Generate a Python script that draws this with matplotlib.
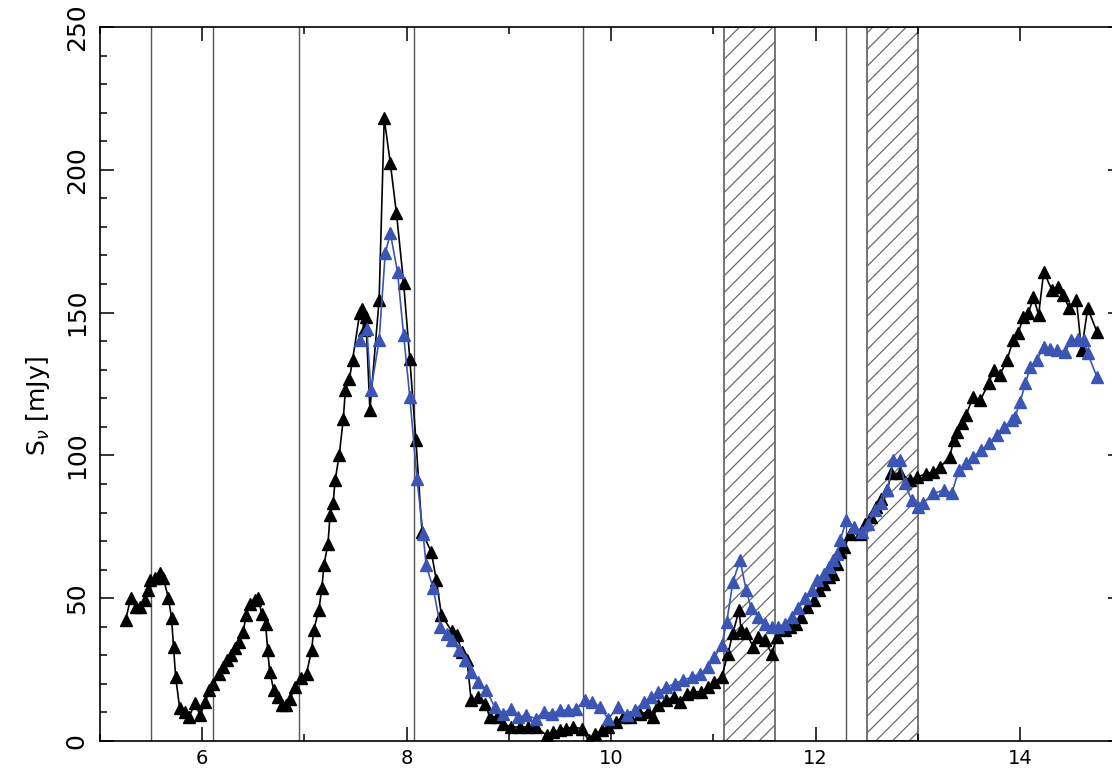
import numpy as np
import matplotlib
matplotlib.use('Agg')
import matplotlib.pyplot as plt
from matplotlib.ticker import MultipleLocator

# black series: wavelength and flux density
black_x = [5.25, 5.30, 5.35, 5.39, 5.44, 5.47, 5.49, 5.54, 5.59, 5.62, 5.67, 5.70, 5.72, 5.74,
           5.78, 5.83, 5.87, 5.93, 5.98, 6.03, 6.07, 6.11, 6.16, 6.20, 6.24, 6.28, 6.32, 6.36,
           6.40, 6.43, 6.47, 6.52, 6.55, 6.58, 6.62, 6.64, 6.66, 6.70, 6.74, 6.78, 6.82, 6.86,
           6.91, 6.97, 7.02, 7.07, 7.09, 7.14, 7.17, 7.19, 7.23, 7.25, 7.28, 7.30, 7.34, 7.38,
           7.40, 7.44, 7.47, 7.54, 7.56, 7.58, 7.60, 7.64, 7.73, 7.78, 7.84, 7.90, 7.97, 8.03,
           8.09, 8.15, 8.24, 8.29, 8.34, 8.44, 8.49, 8.54, 8.59, 8.63, 8.70, 8.77, 8.81, 8.88,
           8.94, 9.02, 9.11, 9.19, 9.26, 9.37, 9.43, 9.50, 9.56, 9.63, 9.71, 9.78, 9.84, 9.91,
           9.97, 10.05, 10.12, 10.18, 10.28, 10.36, 10.41, 10.46, 10.54, 10.61, 10.67, 10.74,
           10.80, 10.88, 10.95, 11.01, 11.08, 11.14, 11.19, 11.25, 11.27, 11.32, 11.39, 11.44,
           11.50, 11.57, 11.62, 11.70, 11.75, 11.81, 11.86, 11.91, 11.98, 12.03, 12.08, 12.13,
           12.17, 12.21, 12.24, 12.28, 12.34, 12.43, 12.48, 12.54, 12.59, 12.64, 12.70, 12.74,
           12.82, 12.92, 12.99, 13.08, 13.15, 13.22, 13.31, 13.35, 13.38, 13.43, 13.47, 13.54,
           13.61, 13.69, 13.74, 13.80, 13.87, 13.93, 13.98, 14.03, 14.08, 14.13, 14.18, 14.23,
           14.31, 14.37, 14.42, 14.48, 14.55, 14.60, 14.66, 14.75]
black_y = [42.3, 49.9, 46.9, 46.9, 49.3, 52.8, 56.3, 57.0, 58.7, 57.0, 50.0, 43.0, 32.9, 22.4,
           11.4, 10.2, 8.4, 13.2, 9.0, 13.7, 17.8, 20.1, 23.6, 25.9, 28.3, 30.0, 32.4, 34.7,
           38.2, 44.0, 48.1, 49.3, 49.9, 44.6, 41.1, 31.8, 24.2, 17.8, 15.4, 12.5, 12.5, 14.8,
           18.9, 21.9, 23.6, 31.8, 38.8, 45.8, 53.4, 61.5, 69.1, 79.0, 83.2, 91.3, 100.1, 112.9,
           122.8, 126.9, 133.3, 149.7, 151.4, 143.8, 148.5, 115.8, 154.4, 218.0, 202.2, 184.7, 160.2, 133.9,
           105.3, 73.2, 66.2, 56.3, 44.0, 38.5, 37.0, 31.2, 28.3, 14.3, 15.4, 13.1, 8.4, 8.4,
           6.1, 4.9, 4.9, 4.9, 4.9, 2.0, 3.2, 3.7, 4.3, 4.9, 4.3, 0.2, 2.6, 3.7,
           4.9, 6.7, 8.4, 8.4, 9.6, 10.2, 8.4, 12.5, 14.3, 15.4, 13.7, 16.6,
           17.2, 17.2, 18.9, 20.7, 22.4, 30.3, 37.7, 45.8, 38.8, 37.7, 32.9, 36.4,
           35.3, 30.6, 36.4, 38.8, 39.9, 41.1, 43.4, 46.9, 49.3, 52.8, 55.1, 57.4,
           58.6, 62.1, 66.2, 68.0, 72.6, 72.6, 76.1, 78.5, 82.0, 84.9, 87.8, 93.7,
           93.7, 91.3, 92.5, 93.5, 94.2, 96.0, 99.5, 105.3, 108.2, 111.2, 114.1, 120.5,
           119.3, 125.2, 129.8, 128.1, 133.3, 140.3, 142.7, 148.5, 149.7, 155.5, 149.1, 164.3,
           157.9, 159.0, 156.1, 151.5, 154.4, 136.8, 151.5, 143.3]

# blue series
blue_x = [7.54, 7.61, 7.65, 7.73, 7.79, 7.84, 7.91, 7.97, 8.03, 8.10, 8.16, 8.19, 8.26, 8.33,
          8.39, 8.44, 8.51, 8.57, 8.63, 8.70, 8.78, 8.86, 8.94, 9.02, 9.09, 9.17, 9.26, 9.34,
          9.42, 9.50, 9.58, 9.66, 9.74, 9.81, 9.89, 9.97, 10.07, 10.15, 10.23, 10.32, 10.39,
          10.46, 10.54, 10.62, 10.70, 10.79, 10.87, 10.95, 11.01, 11.08, 11.13, 11.19, 11.26,
          11.32, 11.37, 11.44, 11.50, 11.57, 11.63, 11.70, 11.77, 11.83, 11.90, 11.96, 12.01,
          12.08, 12.13, 12.17, 12.21, 12.24, 12.30, 12.37, 12.45, 12.51, 12.58, 12.64, 12.70,
          12.76, 12.82, 12.87, 12.94, 13.00, 13.05, 13.15, 13.25, 13.33, 13.40, 13.47, 13.54,
          13.62, 13.69, 13.77, 13.84, 13.92, 13.95, 14.00, 14.05, 14.10, 14.16, 14.23, 14.29,
          14.36, 14.44, 14.50, 14.57, 14.62, 14.66, 14.75]
blue_y = [140.3, 144.4, 122.8, 140.3, 170.7, 177.7, 164.3, 142.1, 120.5, 91.9, 72.6, 61.5, 53.4, 39.9,
          37.6, 35.3, 31.8, 28.3, 24.2, 20.7, 17.8, 11.9, 9.6, 11.3, 8.4, 9.0, 7.8, 10.2,
          9.6, 10.8, 10.8, 11.3, 14.3, 13.7, 11.9, 7.8, 11.9, 9.0, 10.8, 13.7, 15.4,
          17.2, 18.9, 20.1, 21.3, 22.4, 23.6, 25.9, 29.4, 33.5, 41.7, 55.7, 63.3,
          52.8, 46.4, 43.4, 41.1, 39.9, 39.9, 41.1, 43.4, 46.4, 49.9, 52.8, 56.3,
          58.6, 61.0, 63.3, 65.6, 70.3, 77.3, 75.0, 73.2, 76.1, 80.8, 83.2, 87.8,
          98.3, 98.3, 90.2, 84.3, 82.0, 83.2, 86.7, 87.8, 86.7, 94.8, 97.2, 99.5,
          101.8, 104.2, 107.1, 110.0, 112.3, 113.5, 118.7, 125.2, 131.0, 133.3, 138.0, 137.4,
          136.8, 136.3, 140.3, 140.9, 140.3, 135.7, 127.5]

# vertical marker lines and hatched bands
vlines = [5.5, 6.11, 6.95, 8.07, 9.72, 12.30]
bands = [(11.1, 11.6), (12.5, 13.0)]

plt.rcParams['hatch.linewidth'] = 0.9

fig = plt.figure(figsize=(11.12, 7.73), dpi=100)
ax = fig.add_axes([0.0899, 0.0414, 0.9195, 0.9237])

for xv in vlines:
    ax.axvline(xv, color='#555555', lw=1.0, zorder=1)
for x0, x1 in bands:
    ax.axvspan(x0, x1, facecolor='white', edgecolor='#6a6a6a', hatch='//', lw=1.3, zorder=1)

ax.plot(black_x, black_y, color='black', lw=1.2, marker='^', ms=9, zorder=3)
ax.plot(blue_x, blue_y, color='#3a55b4', lw=1.2, marker='^', ms=9, zorder=4)

ax.set_xlim(5, 15)
ax.set_ylim(0, 250)
ax.xaxis.set_major_locator(MultipleLocator(2))
ax.xaxis.set_minor_locator(MultipleLocator(1))
ax.yaxis.set_major_locator(MultipleLocator(50))
ax.yaxis.set_minor_locator(MultipleLocator(10))
ax.tick_params(which='both', direction='in', top=True, right=True, width=1.1)
ax.tick_params(which='major', length=10)
ax.tick_params(which='minor', length=5)
ax.tick_params(axis='x', labelsize=14, pad=6)
ax.tick_params(axis='y', labelsize=18, labelrotation=90, pad=8)
for lab in ax.get_yticklabels():
    lab.set_va('center')
for sp in ax.spines.values():
    sp.set_linewidth(1.2)

ax.set_ylabel(r'S$_\nu$ [mJy]', fontsize=18)
ax.yaxis.set_label_coords(-0.047, 0.47)

fig.savefig('out.png', dpi=100)
